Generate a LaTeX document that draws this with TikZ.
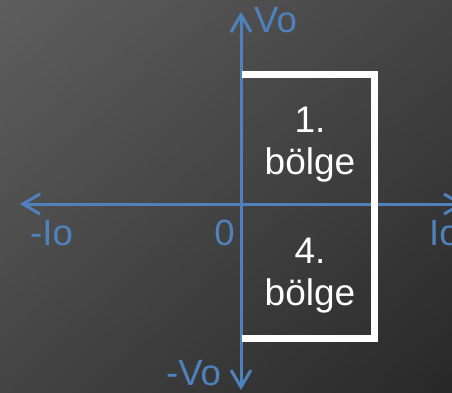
\documentclass[tikz,border=0pt]{standalone}
\usepackage{fontspec}
\setmainfont{Liberation Sans}
\usetikzlibrary{arrows.meta,shadings}
\definecolor{axisblue}{HTML}{4F81BD}
\definecolor{bgtl}{HTML}{5E5E5E}
\definecolor{bgmid}{HTML}{444444}
\definecolor{bgbr}{HTML}{282828}
\tikzset{
  axisline/.style={draw=axisblue, line width=3pt, {Straight Barb[length=17pt,width=20pt,line width=3pt]}-{Straight Barb[length=17pt,width=20pt,line width=3pt]}},
  axislabel/.style={text=axisblue, inner sep=0pt, font=\fontsize{36.5}{42}\selectfont},
  regionline/.style={draw=white, line width=7pt, line join=miter},
  regionlabel/.style={text=white, inner sep=0pt, align=center, anchor=north, font=\fontsize{37}{42}\selectfont}
}
\begin{document}
\begin{tikzpicture}[x=1pt,y=-1pt]
\useasboundingbox (0,0) rectangle (452,392);
\shade[upper left=bgtl, upper right=bgmid, lower left=bgmid, lower right=bgbr] (0,0) rectangle (452,392);
% axes
\coordinate (vtop) at (241,12);
\coordinate (vbot) at (241,390);
\coordinate (hleft) at (20,204);
\coordinate (hright) at (464,204);
\draw[axisline] (vbot) -- (vtop);
\draw[axisline] (hleft) -- (hright);
% region box
\coordinate (tl) at (242,74);
\coordinate (tr) at (374.5,74);
\coordinate (br) at (374.5,338);
\coordinate (bl) at (242,338);
\draw[regionline] (tl) -- (tr) -- (br) -- (bl);
% labels
\node[axislabel, anchor=base west] (vo) at (254,32) {Vo};
\node[axislabel, anchor=base west] (mio) at (30,245) {-Io};
\node[axislabel, anchor=base] (zero) at (224.5,245) {0};
\node[axislabel, anchor=base west] (io) at (429,245) {Io};
\node[axislabel, anchor=base west] (mvo) at (166,385) {-Vo};
\node[regionlabel] (q1) at (310,107) {1.\\bölge};
\node[regionlabel] (q4) at (310,237.5) {4.\\bölge};
\end{tikzpicture}
\end{document}
